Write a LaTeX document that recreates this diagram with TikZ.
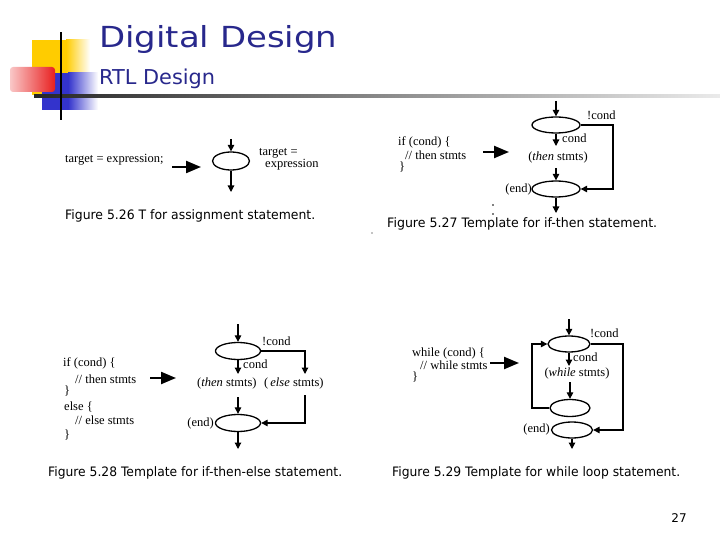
\documentclass[tikz,border=0pt]{standalone}
\usepackage{fontspec}
\setmainfont{Liberation Serif}
\newfontfamily\hdfont{DejaVu Sans}
\usetikzlibrary{shapes.geometric,arrows.meta}
\definecolor{titleblue}{RGB}{40,40,140}
\definecolor{ylw}{RGB}{255,204,0}
\definecolor{blu}{RGB}{51,51,204}
\definecolor{rd}{RGB}{232,32,32}
\newcommand{\capw}[2]{\resizebox{#1pt}{\height}{\hdfont\fontsize{13}{15}\selectfont #2}}
\begin{document}
\begin{tikzpicture}[x=1pt,y=-1pt,
  flow/.style={-{Triangle[length=6.5pt,width=6.5pt]}, line width=1.2pt},
  big/.style={-{Triangle[length=15pt,width=12pt]}, line width=2.2pt},
  blob/.style={draw, ellipse, line width=1.3pt, inner sep=0pt},
  code/.style={font=\fontsize{12.5}{14}\selectfont, anchor=west, inner sep=0pt},
  lbl/.style={font=\fontsize{12.5}{14}\selectfont, inner sep=0pt},
  capt/.style={anchor=base west, inner sep=0pt},
]
\useasboundingbox (0,0) rectangle (720,540);
% ---------- header ----------
\fill[ylw] (32,40) rectangle (66,95);
\shade[left color=ylw, right color=white] (66,40) rectangle (90,95);
\fill[blu] (42,73) rectangle (68,110);
\shade[left color=blu, right color=white] (68,73) rectangle (98,110);
\shade[left color=rd!25, right color=rd, rounded corners=3pt] (10,67) rectangle (55,92);
\shade[left color=black!85, right color=black!8] (34,94.5) rectangle (720,97.5);
\fill[black] (59.8,32) rectangle (62.3,120);
\node[anchor=base west, inner sep=0pt, text=titleblue] (title) at (99,48)
  {\resizebox{238pt}{\height}{\hdfont\fontsize{29}{32}\selectfont Digital Design}};
\node[anchor=base west, inner sep=0pt, text=titleblue] (sub) at (99,85)
  {\resizebox{116pt}{\height}{\hdfont\fontsize{20.5}{24}\selectfont RTL Design}};

% ---------- Figure 5.26 ----------
\node[code] (t1) at (65,160) {target = expression;};
\coordinate (a1s) at (172,167); \coordinate (a1e) at (201,167);
\draw[big] (a1s) -- (a1e);
\node[blob, minimum width=37pt, minimum height=18pt] (e1) at (231,161) {};
\coordinate (e1in) at (231,139); \coordinate (e1out) at (231,192);
\draw[flow] (e1in) -- (e1.north);
\draw[flow] (e1.south) -- (e1out);
\node[code] (l1a) at (259,153) {target =};
\node[code] (l1b) at (265,165) {expression};
\node[capt] (c1) at (65,220) {\capw{250}{Figure 5.26 T for assignment statement.}};

% ---------- Figure 5.27 ----------
\node[code] (t2a) at (398,142) {if (cond) \{};
\node[code] (t2b) at (405,155) {// then stmts};
\node[code] (t2c) at (399,167) {\}};
\coordinate (a2s) at (483,152); \coordinate (a2e) at (509,152);
\draw[big] (a2s) -- (a2e);
\node[blob, minimum width=48pt, minimum height=16pt] (e2a) at (556,125) {};
\node[blob, minimum width=48pt, minimum height=16pt] (e2b) at (556,189) {};
\coordinate (e2in) at (556,101);
\draw[flow] (e2in) -- (e2a.north);
\node[lbl, anchor=west] (n2) at (587,115) {!cond};
\coordinate (r2) at (613,125);
\draw[flow] (e2a.east) -- (r2) |- (e2b.east);
\coordinate (c2) at (556,146);
\draw[flow] (e2a.south) -- (c2);
\node[lbl, anchor=west] (k2) at (562,138) {cond};
\node[lbl] (s2) at (558,157) {(\textit{then} stmts)};
\coordinate (d2) at (556,168);
\draw[flow] (d2) -- (e2b.north);
\node[lbl, anchor=east] (end2) at (532,189) {(end)};
\coordinate (o2) at (556,213);
\draw[flow] (e2b.south) -- (o2);
\fill (493,205) circle (0.9); \fill (493,214) circle (0.9); \fill (372,233) circle (0.7);
\node[capt] (c2cap) at (387,227) {\capw{270}{Figure 5.27 Template for if-then statement.}};

% ---------- Figure 5.28 ----------
\node[code] (t3a) at (63,363) {if (cond) \{};
\node[code] (t3b) at (75,379) {// then stmts};
\node[code] (t3c) at (64,391) {\}};
\node[code] (t3d) at (64,407) {else \{};
\node[code] (t3e) at (75,420) {// else stmts};
\node[code] (t3f) at (64,435) {\}};
\coordinate (a3s) at (150,378); \coordinate (a3e) at (176,378);
\draw[big] (a3s) -- (a3e);
\node[blob, minimum width=45pt, minimum height=17pt] (e3a) at (238,351) {};
\node[blob, minimum width=45pt, minimum height=17pt] (e3b) at (238,423) {};
\coordinate (e3in) at (238,324);
\draw[flow] (e3in) -- (e3a.north);
\node[lbl, anchor=west] (n3) at (262,341) {!cond};
\coordinate (r3e) at (305,374);
\draw[flow] (e3a.east) -| (r3e);
\coordinate (c3) at (238,374);
\draw[flow] (e3a.south) -- (c3);
\node[lbl, anchor=west] (k3) at (243,364) {cond};
\node[lbl, anchor=west] (s3a) at (197,383) {(\textit{then} stmts)};
\node[lbl, anchor=west] (s3b) at (264,383) {(\,\textit{else} stmts)};
\coordinate (d3) at (238,397);
\draw[flow] (d3) -- (e3b.north);
\coordinate (r3b) at (305,395);
\draw[flow] (r3b) |- (e3b.east);
\node[lbl, anchor=east] (end3) at (214,423) {(end)};
\coordinate (o3) at (238,449);
\draw[flow] (e3b.south) -- (o3);
\node[capt] (c3cap) at (48,476) {\capw{294}{Figure 5.28 Template for if-then-else statement.}};

% ---------- Figure 5.29 ----------
\node[code] (t4a) at (412,353) {while (cond) \{};
\node[code] (t4b) at (420,365) {// while stmts};
\node[code] (t4c) at (412,377) {\}};
\coordinate (a4s) at (490,363); \coordinate (a4e) at (519,363);
\draw[big] (a4s) -- (a4e);
\node[blob, minimum width=42pt, minimum height=16pt] (e4a) at (569,344) {};
\node[blob, minimum width=40pt, minimum height=17pt] (e4b) at (570,408) {};
\node[blob, minimum width=41pt, minimum height=16pt] (e4c) at (572,430) {};
\coordinate (e4in) at (569,319);
\draw[flow] (e4in) -- (e4a.north);
\node[lbl, anchor=west] (n4) at (590,333) {!cond};
\coordinate (r4) at (623,344);
\draw[flow] (e4a.east) -- (r4) |- (e4c.east);
\coordinate (c4) at (569,366);
\draw[flow] (e4a.south) -- (c4);
\node[lbl, anchor=west] (k4) at (573,357) {cond};
\node[lbl] (s4) at (577,373) {(\textit{while} stmts)};
\coordinate (d4) at (570,382);
\draw[flow] (d4) -- (e4b.north);
\coordinate (l4) at (532,408);
\draw[flow] (e4b.west) -- (l4) |- (e4a.west);
\node[lbl, anchor=east] (end4) at (550,429) {(end)};
\coordinate (o4) at (572,449);
\draw[flow] (e4c.south) -- (o4);
\node[capt] (c4cap) at (392,476) {\capw{288}{Figure 5.29 Template for while loop statement.}};

% ---------- page number ----------
\node[anchor=base, inner sep=0pt, font=\hdfont\fontsize{12}{14}\selectfont] (pg) at (679,522) {27};
\end{tikzpicture}
\end{document}
